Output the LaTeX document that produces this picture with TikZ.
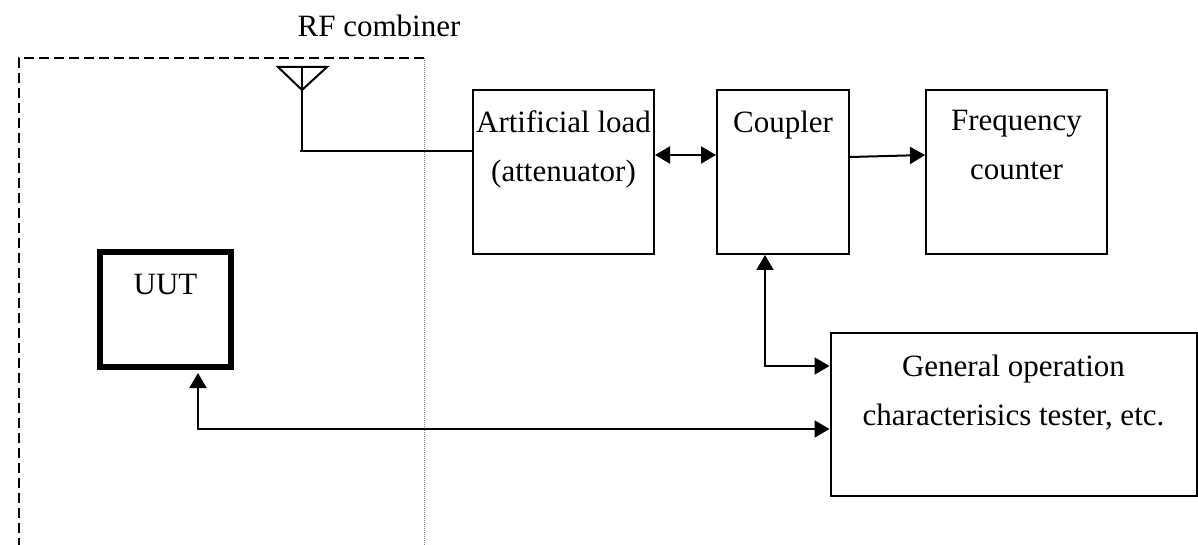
\documentclass[tikz,border=0pt]{standalone}
\usepackage{fontspec}
\setmainfont{Liberation Serif}
\usepackage{tikz}
\usetikzlibrary{arrows.meta,positioning}

\tikzset{
    box/.style={draw, line width=2pt, rectangle, inner sep=0pt},
    lbl/.style={font=\fontsize{31}{49}\selectfont, align=center, inner sep=0pt},
    link/.style={line width=2pt, -{Triangle[length=15pt,width=17pt]}},
    dlink/.style={line width=2pt, {Triangle[length=15pt,width=17pt]}-{Triangle[length=15pt,width=17pt]}}
}

\begin{document}
\begin{tikzpicture}[x=1pt, y=1pt]
    \useasboundingbox (0,0) rectangle (1198,544);

    % RF combiner frame
    \draw[line width=2pt, dash pattern=on 10pt off 5pt] (424,486) -- (19,486) -- (19,-5);
    \draw[gray, line width=0.8pt, dash pattern=on 1pt off 1pt] (424,486) -- (424,-5);
    \node[lbl, anchor=base] (rfc) at (379,507) {RF combiner};

    % Antenna
    \draw[line width=2pt] (278,477) -- (327,477) -- (302,454) -- cycle;
    \coordinate (ant) at (302,393);
    \draw[line width=2pt] (302,477) -- (ant);

    % Boxes
    \node[box, minimum width=181pt, minimum height=164pt] (load) at (563.5,372) {};
    \node[box, minimum width=132pt, minimum height=164pt] (coupler) at (783,372) {};
    \node[box, minimum width=181pt, minimum height=164pt] (freq) at (1016.5,372) {};
    \node[box, minimum width=366pt, minimum height=163pt] (tester) at (1013.5,129.5) {};
    \node[box, line width=6pt, minimum width=131pt, minimum height=115pt] (uut) at (165.5,234.5) {};

    % Box texts
    \node[lbl, below=21.5pt of load.north] (loadtxt) {Artificial load\\(attenuator)};
    \node[lbl, below=21.5pt of coupler.north] (couptxt) {Coupler};
    \node[lbl, below=21.5pt of freq.north] (freqtxt) {Frequency\\counter};
    \node[lbl, below=23pt of tester.north] (testtxt) {General operation\\characterisics tester, etc.};
    \node[lbl, below=25.5pt of uut.north] (uuttxt) {UUT};

    % Connections
    \draw[line width=2pt] ([xshift=-2pt]ant) -- (ant -| load.west);
    \draw[dlink] ([yshift=17pt]load.east) -- ([yshift=17pt]coupler.west);
    \draw[link] ([yshift=15pt]coupler.east) -- ([yshift=17pt]freq.west);
    \draw[dlink] ([xshift=-18pt]coupler.south) |- ([yshift=48.5pt]tester.west);
    \draw[dlink, shorten <=3pt] ([xshift=32.5pt]uut.south) |- ([yshift=-14.5pt]tester.west);
\end{tikzpicture}
\end{document}
